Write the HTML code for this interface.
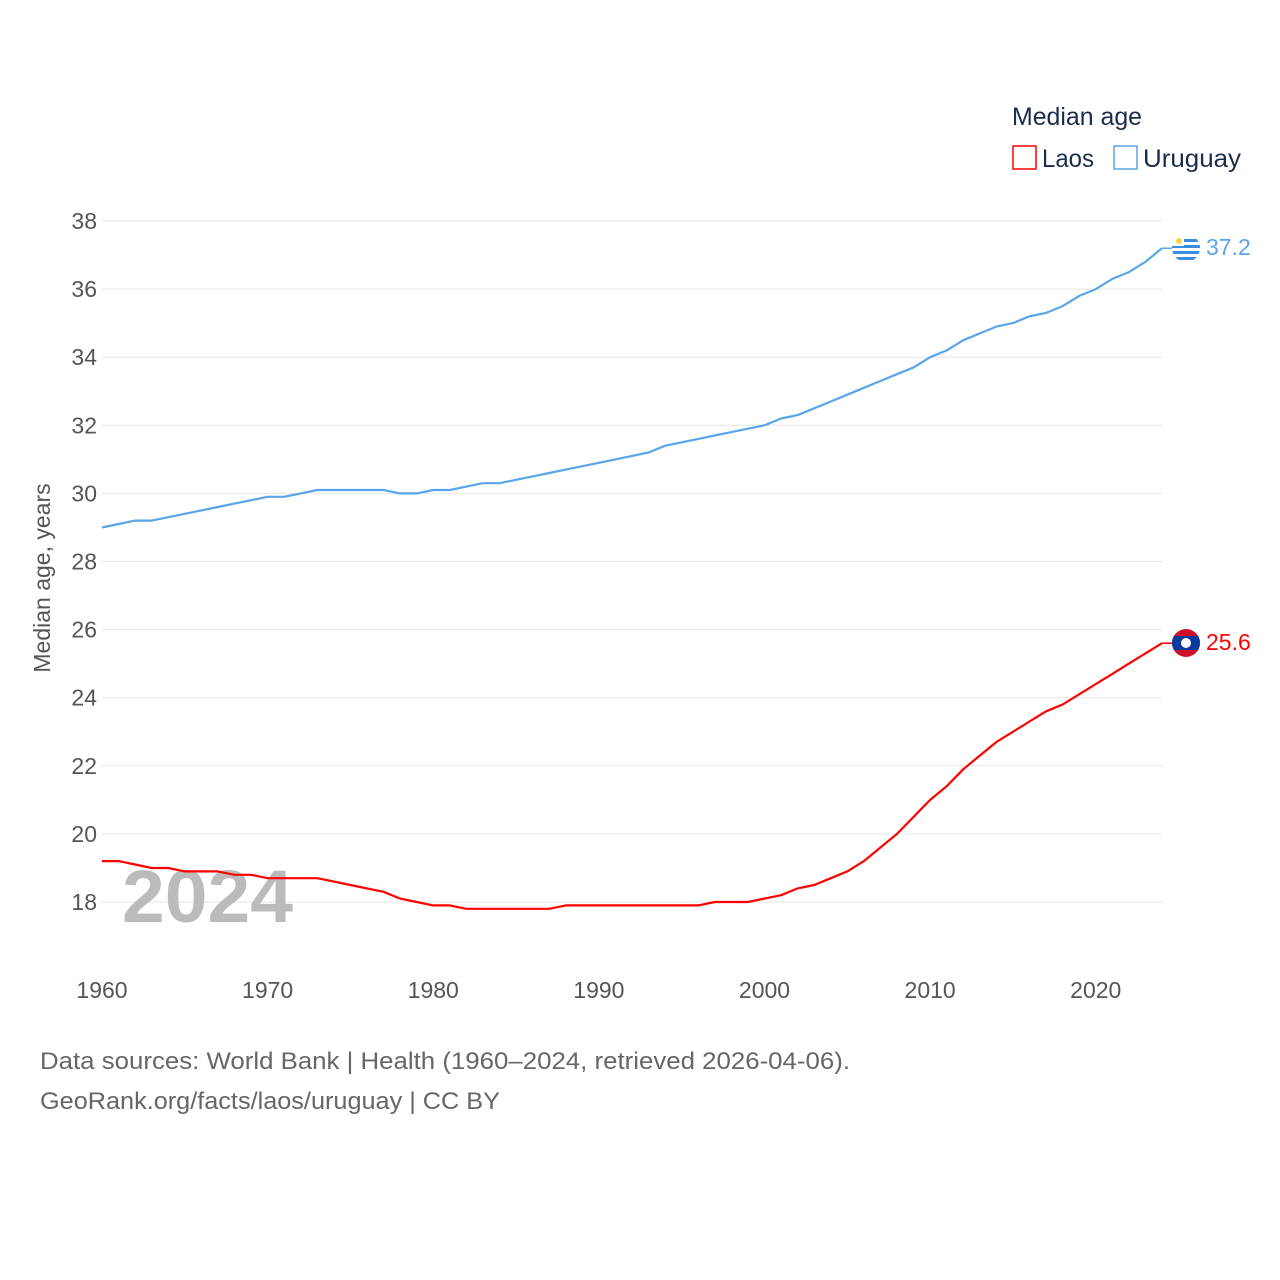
<!DOCTYPE html>
<html><head><meta charset="utf-8"><style>
body{margin:0;background:#fff;}
svg{display:block;font-family:"Liberation Sans",sans-serif;}
</style></head><body>
<svg id="chart" width="1280" height="1280">
<defs>
<clipPath id="cl"><circle cx="1186" cy="643" r="14"/></clipPath>
<clipPath id="cu"><circle cx="1186" cy="248" r="14"/></clipPath>
</defs>
<g id="grid"></g>
<g id="yticks"></g>
<g id="xticks"></g>
<text x="50" y="578" transform="rotate(-90 50 578)" text-anchor="middle" font-size="23" fill="#555">Median age, years</text>
<text x="122" y="922" font-size="74" font-weight="bold" fill="#bbb" textLength="171" lengthAdjust="spacingAndGlyphs">2024</text>
<g id="lines"></g>
<g>
<text x="1012" y="125" font-size="25" fill="#1b2b4b" textLength="130" lengthAdjust="spacingAndGlyphs">Median age</text>
<rect x="1013" y="146" width="23" height="23" fill="none" stroke="#ff0000" stroke-width="1.5"/>
<text x="1042" y="167" font-size="25" fill="#1b2b4b" textLength="52" lengthAdjust="spacingAndGlyphs">Laos</text>
<rect x="1114" y="146" width="23" height="23" fill="none" stroke="#5aa5ea" stroke-width="1.5"/>
<text x="1143" y="167" font-size="25" fill="#1b2b4b" textLength="98" lengthAdjust="spacingAndGlyphs">Uruguay</text>
</g>
<g clip-path="url(#cl)">
<rect x="1172" y="629" width="28" height="28" fill="#ce1126"/>
<rect x="1172" y="636" width="28" height="14" fill="#0a3a9e"/>
<circle cx="1186" cy="643" r="5" fill="#fff"/>
</g>
<g clip-path="url(#cu)">
<rect x="1172" y="234" width="28" height="28" fill="#fff"/>
<rect x="1172" y="239" width="28" height="3" fill="#3a8de0"/>
<rect x="1172" y="245" width="28" height="3" fill="#3a8de0"/>
<rect x="1172" y="251" width="28" height="3" fill="#3a8de0"/>
<rect x="1172" y="257" width="28" height="3" fill="#3a8de0"/>
<rect x="1172" y="234" width="12" height="12" fill="#fff"/>
<circle cx="1179" cy="241" r="3" fill="#f7d24a"/>
</g>
<text x="1206" y="650" font-size="23" fill="#ff0000">25.6</text>
<text x="1206" y="255" font-size="23" fill="#5aa5ea">37.2</text>
<text x="40" y="1069" font-size="24" fill="#666" textLength="810" lengthAdjust="spacingAndGlyphs">Data sources: World Bank | Health (1960–2024, retrieved 2026-04-06).</text>
<text x="40" y="1109" font-size="24" fill="#666" textLength="460" lengthAdjust="spacingAndGlyphs">GeoRank.org/facts/laos/uruguay | CC BY</text>
</svg>
<script>
const years=[];for(let y=1960;y<=2024;y++)years.push(y);
const uruguay=[29.0,29.1,29.2,29.2,29.3,29.4,29.5,29.6,29.7,29.8,29.9,29.9,30.0,30.1,30.1,30.1,30.1,30.1,30.0,30.0,30.1,30.1,30.2,30.3,30.3,30.4,30.5,30.6,30.7,30.8,30.9,31.0,31.1,31.2,31.4,31.5,31.6,31.7,31.8,31.9,32.0,32.2,32.3,32.5,32.7,32.9,33.1,33.3,33.5,33.7,34.0,34.2,34.5,34.7,34.9,35.0,35.2,35.3,35.5,35.8,36.0,36.3,36.5,36.8,37.2];
const laos=[19.2,19.2,19.1,19.0,19.0,18.9,18.9,18.9,18.8,18.8,18.7,18.7,18.7,18.7,18.6,18.5,18.4,18.3,18.1,18.0,17.9,17.9,17.8,17.8,17.8,17.8,17.8,17.8,17.9,17.9,17.9,17.9,17.9,17.9,17.9,17.9,17.9,18.0,18.0,18.0,18.1,18.2,18.4,18.5,18.7,18.9,19.2,19.6,20.0,20.5,21.0,21.4,21.9,22.3,22.7,23.0,23.3,23.6,23.8,24.1,24.4,24.7,25.0,25.3,25.6];
const yTicks=[18,20,22,24,26,28,30,32,34,36,38];
const xTicks=[1960,1970,1980,1990,2000,2010,2020];
const NS="http://www.w3.org/2000/svg";
const xs=y=>102+(y-1960)*(1162-102)/64;
const ys=v=>902-(v-18)*(902-221)/20;
function mk(t,a,p){const e=document.createElementNS(NS,t);for(const k in a)e.setAttribute(k,a[k]);p.appendChild(e);return e;}
const grid=document.getElementById('grid'),yt=document.getElementById('yticks'),xt=document.getElementById('xticks'),ln=document.getElementById('lines');
yTicks.forEach(v=>{
 const l=mk('line',{x1:102,x2:1162,y1:ys(v),y2:ys(v),stroke:'#e6e6e6','stroke-width':1},grid);
 
 
 const t=mk('text',{x:97,y:ys(v)+8,'text-anchor':'end','font-size':23,fill:'#555'},yt);
 t.textContent=v;
 
 
});
xTicks.forEach(v=>{
 const t=mk('text',{x:xs(v),y:998,'text-anchor':'middle','font-size':23,fill:'#555'},xt);
 t.textContent=v;
 
 
});
function path(arr,col,name){
 let d=arr.map((v,i)=>(i?'L':'M')+xs(years[i]).toFixed(1)+','+ys(v).toFixed(1)).join('');
 const p=mk('path',{d:d,fill:'none',stroke:col,'stroke-width':2.2,'stroke-linejoin':'round'},ln);
 
 
 const c=mk('line',{x1:xs(2024),x2:1172,y1:ys(arr[arr.length-1]),y2:ys(arr[arr.length-1]),stroke:col,'stroke-width':1.5},ln);
 
 
}
path(uruguay,'#5aa5ea','line-uruguay');
path(laos,'#ff0000','line-laos');
</script>
</body></html>
